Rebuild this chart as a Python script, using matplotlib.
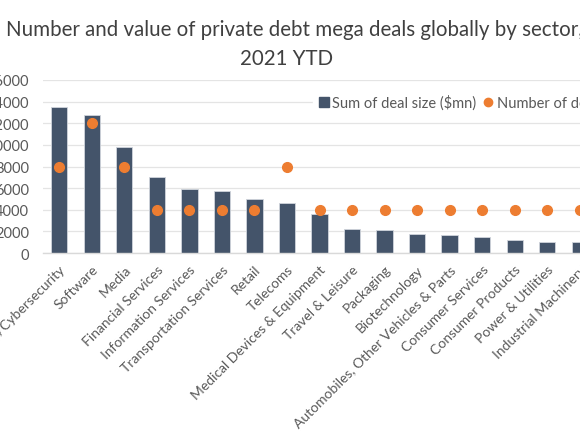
import matplotlib
matplotlib.use("Agg")
import matplotlib.pyplot as plt
from matplotlib.lines import Line2D

# donnees
secteurs = ["Security/Cybersecurity", "Software", "Media", "Financial Services",
            "Information Services", "Transportation Services", "Retail", "Telecoms",
            "Medical Devices & Equipment", "Travel & Leisure", "Packaging",
            "Biotechnology", "Automobiles, Other Vehicles & Parts",
            "Consumer Services", "Consumer Products", "Power & Utilities",
            "Industrial Machinery"]
taille_deals = [13500, 12800, 9800, 7000, 5950, 5750, 4950, 4600, 3650,
                2200, 2170, 1750, 1620, 1520, 1240, 1030, 990]
nombre_deals = [2, 3, 2, 1, 1, 1, 1, 2, 1, 1, 1, 1, 1, 1, 1, 1, 1]
yticks = list(range(0, 16001, 2000))

plt.rcParams['font.family'] = ['Lato', 'DejaVu Sans']

bleu = '#44546A'
orange = '#ED7D31'
gris_txt = '#595959'

fig = plt.figure(figsize=(5.8, 4.35), dpi=100, facecolor='white')
ax = fig.add_axes([43 / 580, 181 / 435, (596 - 43) / 580, 173 / 435])

x = list(range(len(secteurs)))
ax.bar(x, taille_deals, width=0.5, color=bleu, edgecolor='#D0D5DC', linewidth=0.6, zorder=2)
ax.set_xlim(-0.5, len(secteurs) - 0.5)
ax.set_ylim(0, 16000)
ax.set_yticks(yticks)
ax.set_yticklabels([str(v) for v in yticks], color=gris_txt, fontsize=10.5)
ax.set_xticks(x)
ax.set_xticklabels(secteurs, rotation=45, ha='right', rotation_mode='anchor',
                   color=gris_txt, fontsize=10)
ax.tick_params(axis='both', length=0)
ax.tick_params(axis='x', pad=7)
ax.tick_params(axis='y', pad=10)
ax.grid(axis='y', color='#E4E4E4', linewidth=0.9, zorder=0)
ax.set_axisbelow(True)
for s in ['top', 'right', 'left']:
    ax.spines[s].set_visible(False)
ax.spines['bottom'].set_color('#D9D9D9')
ax.spines['bottom'].set_linewidth(1.0)

ax2 = ax.twinx()
ax2.plot(x, nombre_deals, linestyle='', marker='o', markersize=7, color=orange, zorder=3)
ax2.set_ylim(0, 4)
ax2.axis('off')

fig.text(295 / 580, 1 - 30 / 435, "Number and value of private debt mega deals globally by sector,",
         ha='center', va='center', fontsize=14.8, color='#404040')
fig.text(287 / 580, 1 - 59 / 435, "2021 YTD", ha='center', va='center', fontsize=14.8, color='#404040')

handles = [Line2D([], [], linestyle='', marker='s', markersize=7, color=bleu),
           Line2D([], [], linestyle='', marker='o', markersize=6, color=orange)]
fig.legend(handles, ["Sum of deal size ($mn)", "Number of deals"], ncol=2,
           loc='center left', bbox_to_anchor=(306 / 580, 1 - 103 / 435),
           frameon=True, facecolor='white', edgecolor='white', framealpha=1,
           fontsize=10.5, labelcolor=gris_txt, handletextpad=0.1, columnspacing=0.3,
           borderpad=0.2, handlelength=1.0)

fig.savefig("out.png", dpi=100, facecolor='white')
